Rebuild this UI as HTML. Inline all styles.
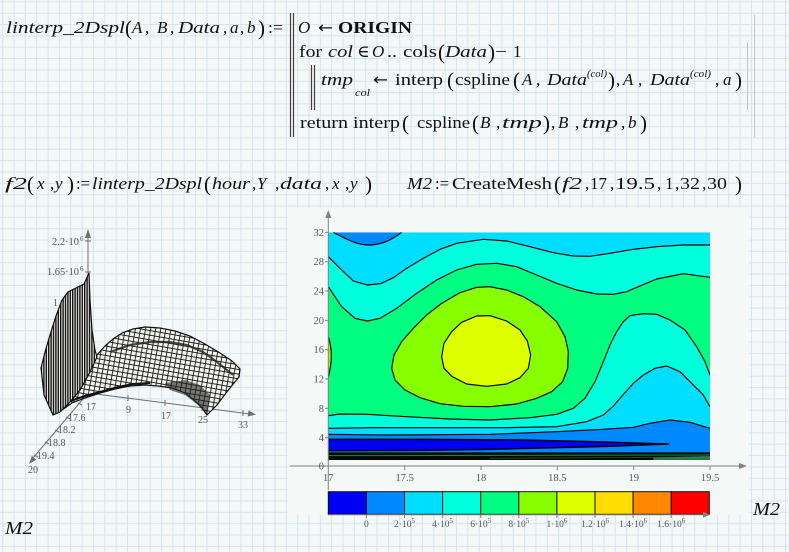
<!DOCTYPE html>
<html><head><meta charset="utf-8">
<style>html,body{margin:0;padding:0;background:#f4f8f6;overflow:hidden}svg{display:block}</style>
</head><body>
<svg width="789" height="552" viewBox="0 0 789 552" xmlns="http://www.w3.org/2000/svg">
<defs>
<pattern id="grid" x="2.2" y="1.3" width="11.345" height="11.345" patternUnits="userSpaceOnUse">
<path d="M0.5,0V11.345M0,0.5H11.345" stroke="#d3e4f3" stroke-width="1" fill="none"/>
</pattern>
<pattern id="wallp" width="2.4" height="10" patternUnits="userSpaceOnUse">
<rect width="2.4" height="10" fill="#eeeeea"/><rect width="1.4" height="10" fill="#151515"/>
</pattern>
<pattern id="meshp" width="5" height="4.6" patternUnits="userSpaceOnUse" patternTransform="rotate(10)">
<rect width="5" height="4.6" fill="#f3f3ee"/><path d="M0,0.45H5M0.45,0V4.6" stroke="#1a1a1a" stroke-width="0.9"/>
</pattern>
<clipPath id="cclip"><rect x="115" y="82" width="1145" height="683"/></clipPath>
</defs>

<rect width="789" height="552" fill="#f4f8f6"/>
<rect width="789" height="552" fill="url(#grid)"/>

<!-- formulas -->
<g font-family="'Liberation Serif','DejaVu Serif',serif" font-size="17" fill="#111">
<text x="6" y="33" font-style="italic" textLength="119" lengthAdjust="spacingAndGlyphs">linterp_2Dspl</text>
<text x="125" y="35" font-size="21">(</text>
<text x="132" y="33" font-style="italic">A</text>
<text x="145" y="33">,</text>
<text x="157" y="33" font-style="italic">B</text>
<text x="170" y="33">,</text>
<text x="178" y="33" font-style="italic" textLength="42" lengthAdjust="spacingAndGlyphs">Data</text>
<text x="223" y="33">,</text>
<text x="230" y="33" font-style="italic">a</text>
<text x="240" y="33">,</text>
<text x="247" y="33" font-style="italic">b</text>
<text x="258" y="35" font-size="21">)</text>
<text x="268" y="33" textLength="15" lengthAdjust="spacingAndGlyphs">:=</text>

<text x="298" y="33" font-style="italic">O</text>
<text x="318" y="33" font-family="'DejaVu Sans',sans-serif" font-size="16" textLength="15" lengthAdjust="spacingAndGlyphs">←</text>
<text x="338" y="33" font-weight="bold" textLength="74" lengthAdjust="spacingAndGlyphs">ORIGIN</text>

<text x="299" y="57" textLength="23" lengthAdjust="spacingAndGlyphs">for</text>
<text x="328" y="57" font-style="italic" textLength="25" lengthAdjust="spacingAndGlyphs">col</text>
<text x="357" y="57">∈</text>
<text x="372" y="57" font-style="italic">O</text>
<text x="387" y="57" textLength="10" lengthAdjust="spacingAndGlyphs">..</text>
<text x="403" y="57" textLength="34" lengthAdjust="spacingAndGlyphs">cols</text>
<text x="438" y="59" font-size="21">(</text>
<text x="445" y="57" font-style="italic" textLength="42" lengthAdjust="spacingAndGlyphs">Data</text>
<text x="488" y="59" font-size="21">)</text>
<text x="495" y="57" textLength="12" lengthAdjust="spacingAndGlyphs">−</text>
<text x="513" y="57">1</text>

<text x="321" y="85" font-style="italic" textLength="32" lengthAdjust="spacingAndGlyphs">tmp</text>
<text x="355" y="96" font-style="italic" font-size="10" textLength="15" lengthAdjust="spacingAndGlyphs">col</text>
<text x="373" y="85" font-family="'DejaVu Sans',sans-serif" font-size="16" textLength="15" lengthAdjust="spacingAndGlyphs">←</text>
<text x="395" y="85" textLength="48" lengthAdjust="spacingAndGlyphs">interp</text>
<text x="447" y="87" font-size="21">(</text>
<text x="455" y="85" textLength="55" lengthAdjust="spacingAndGlyphs">cspline</text>
<text x="513" y="87" font-size="21">(</text>
<text x="522" y="85" font-style="italic">A</text>
<text x="536" y="85">,</text>
<text x="547" y="85" font-style="italic" textLength="40" lengthAdjust="spacingAndGlyphs">Data</text>
<text x="587" y="77" font-style="italic" font-size="10" textLength="20" lengthAdjust="spacingAndGlyphs">(col)</text>
<text x="608" y="87" font-size="21">)</text>
<text x="616" y="85">,</text>
<text x="623" y="85" font-style="italic">A</text>
<text x="638" y="85">,</text>
<text x="650" y="85" font-style="italic" textLength="40" lengthAdjust="spacingAndGlyphs">Data</text>
<text x="690" y="77" font-style="italic" font-size="10" textLength="21" lengthAdjust="spacingAndGlyphs">(col)</text>
<text x="715" y="85">,</text>
<text x="723" y="85" font-style="italic">a</text>
<text x="735" y="87" font-size="21">)</text>

<text x="300" y="128" textLength="48" lengthAdjust="spacingAndGlyphs">return</text>
<text x="353" y="128" textLength="47" lengthAdjust="spacingAndGlyphs">interp</text>
<text x="402" y="130" font-size="21">(</text>
<text x="417" y="128" textLength="53" lengthAdjust="spacingAndGlyphs">cspline</text>
<text x="472" y="130" font-size="21">(</text>
<text x="480" y="128" font-style="italic">B</text>
<text x="496" y="128">,</text>
<text x="502" y="128" font-style="italic" textLength="40" lengthAdjust="spacingAndGlyphs">tmp</text>
<text x="543" y="130" font-size="21">)</text>
<text x="551" y="128">,</text>
<text x="558" y="128" font-style="italic">B</text>
<text x="575" y="128">,</text>
<text x="582" y="128" font-style="italic" textLength="36" lengthAdjust="spacingAndGlyphs">tmp</text>
<text x="621" y="128">,</text>
<text x="628" y="128" font-style="italic">b</text>
<text x="640" y="130" font-size="21">)</text>

<!-- row 2 -->
<text x="5" y="189" font-style="italic" textLength="22" lengthAdjust="spacingAndGlyphs">f2</text>
<text x="27" y="191" font-size="21">(</text>
<text x="37" y="189" font-style="italic">x</text>
<text x="50" y="189">,</text>
<text x="55" y="189" font-style="italic">y</text>
<text x="67" y="191" font-size="21">)</text>
<text x="76" y="189" textLength="14" lengthAdjust="spacingAndGlyphs">:=</text>
<text x="92" y="189" font-style="italic" textLength="110" lengthAdjust="spacingAndGlyphs">linterp_2Dspl</text>
<text x="204" y="191" font-size="21">(</text>
<text x="212" y="189" font-style="italic" textLength="38" lengthAdjust="spacingAndGlyphs">hour</text>
<text x="252" y="189">,</text>
<text x="257" y="189" font-style="italic">Y</text>
<text x="275" y="189">,</text>
<text x="280" y="189" font-style="italic" textLength="42" lengthAdjust="spacingAndGlyphs">data</text>
<text x="325" y="189">,</text>
<text x="332" y="189" font-style="italic">x</text>
<text x="345" y="189">,</text>
<text x="350" y="189" font-style="italic">y</text>
<text x="365" y="191" font-size="21">)</text>

<text x="407" y="189" font-style="italic" textLength="25" lengthAdjust="spacingAndGlyphs">M2</text>
<text x="435" y="189" textLength="14" lengthAdjust="spacingAndGlyphs">:=</text>
<text x="452" y="189" textLength="100" lengthAdjust="spacingAndGlyphs">CreateMesh</text>
<text x="554" y="191" font-size="21">(</text>
<text x="562" y="189" font-style="italic" textLength="20" lengthAdjust="spacingAndGlyphs">f2</text>
<text x="585" y="189">,</text>
<text x="590" y="189" textLength="17" lengthAdjust="spacingAndGlyphs">17</text>
<text x="610" y="189">,</text>
<text x="615" y="189" textLength="40" lengthAdjust="spacingAndGlyphs">19.5</text>
<text x="657" y="189">,</text>
<text x="665" y="189">1</text>
<text x="675" y="189">,</text>
<text x="680" y="189" textLength="20" lengthAdjust="spacingAndGlyphs">32</text>
<text x="702" y="189">,</text>
<text x="707" y="189" textLength="20" lengthAdjust="spacingAndGlyphs">30</text>
<text x="735" y="191" font-size="21">)</text>

<text x="5" y="534" font-style="italic" font-size="18" textLength="28" lengthAdjust="spacingAndGlyphs">M2</text>
<text x="753" y="515" font-style="italic" font-size="18" textLength="27" lengthAdjust="spacingAndGlyphs">M2</text>
</g>

<!-- program bars -->
<g stroke="#4a3c3c" stroke-width="1.2">
<line x1="290.5" y1="13" x2="290.5" y2="137"/>
<line x1="293.5" y1="13" x2="293.5" y2="137"/>
<line x1="311.5" y1="65" x2="311.5" y2="110"/>
<line x1="314.5" y1="65" x2="314.5" y2="110"/>
</g>
<g stroke="#c4c4c4" stroke-width="1">
<line x1="747.5" y1="42" x2="747.5" y2="110"/>
<line x1="754.5" y1="15" x2="754.5" y2="137"/>
</g>

<!-- 3D plot -->
<g stroke="#707070" stroke-width="1" fill="#707070">
<line x1="88" y1="393" x2="88" y2="233"/>
<polygon points="85,238 88,229 91,238" stroke="none"/>
<line x1="88" y1="393" x2="250" y2="414"/>
<polygon points="256,414.5 248.5,410.5 247.7,416.5" stroke="none"/>
<line x1="88" y1="393" x2="33" y2="458"/>
<polygon points="29,464 36.4,459.7 31.8,455.9" stroke="none"/>
<line x1="85" y1="241" x2="91" y2="241"/>
<line x1="85" y1="272" x2="91" y2="272"/>
<line x1="128" y1="395" x2="128" y2="401"/>
<line x1="165" y1="400" x2="165" y2="406"/>
<line x1="202" y1="405" x2="202" y2="411"/>
<line x1="243" y1="410" x2="243" y2="416"/>
<line x1="78" y1="403" x2="82" y2="405"/>
<line x1="66" y1="417" x2="70" y2="419"/>
<line x1="55" y1="430" x2="59" y2="432"/>
<line x1="45" y1="442" x2="49" y2="444"/>
<line x1="34" y1="455" x2="38" y2="457"/>
</g>
<g font-family="'Liberation Serif',serif" font-size="10" fill="#555">
<text x="52" y="245" textLength="27" lengthAdjust="spacingAndGlyphs">2.2·10</text><text x="80" y="241" font-size="7">6</text>
<text x="47" y="275" textLength="32" lengthAdjust="spacingAndGlyphs">1.65·10</text><text x="80" y="271" font-size="7">6</text>
<text x="53" y="306">1</text>
<text x="86" y="410">17</text>
<text x="126" y="413">9</text>
<text x="161" y="419">17</text>
<text x="198" y="423">25</text>
<text x="238" y="428">33</text>
<text x="68" y="421">17.6</text>
<text x="58" y="433">18.2</text>
<text x="48" y="446">18.8</text>
<text x="37" y="459">19.4</text>
<text x="28" y="473">20</text>
</g>
<!-- surface -->
<path d="M97,355 L105,346 L113,339 L122,333 L133,329 L145,327 L160,328 L175,331 L190,336 L205,344 L220,353 L232,361 L240,369 L239,377 L234,383 L226,393 L217,405 L207,415 L202,408 L194,400 L185,393 L172,388 L158,386 L145,385 L130,386 L115,389 L100,393 L85,398 L72,403 L62,410 L70,402 L80,390 L90,372 Z" fill="url(#meshp)" stroke="#111" stroke-width="1.2"/>
<path d="M165,383 L185,380 L200,385 L210,395 L207,415 L198,405 L185,395 L170,390 Z" fill="#222" opacity="0.6"/>
<path d="M110,352 L130,345 L150,342 L170,342 L187,345 L203,352 L217,362 L233,375" fill="none" stroke="#222" stroke-width="2.2" opacity="0.8"/>
<path d="M67,402 L85,396 L100,392 L118,387 L133,384 L150,383" fill="none" stroke="#111" stroke-width="2"/>
<path d="M53,415 L44,395 L41,368 L45,352 L50,335 L56,316 L62,300 L68,292 L76,288 L84,284 L89,273 L90,300 L92,330 L95,350 L97,357 L90,372 L80,390 L70,402 L60,412 Z" fill="url(#wallp)" stroke="#111" stroke-width="1.2"/>

<!-- contour plot plain area -->
<rect x="288" y="208" width="461" height="307" fill="#f4f8f6"/>

<g transform="translate(290,205) scale(0.3333333)">
<g clip-path="url(#cclip)">
<rect x="115" y="82" width="1145" height="683" fill="#00ddff"/>
<path d="M130,82 C165,100 200,120 235,120 C275,120 305,105 335,82 Z" fill="#0088ff"/>
<path d="M115,155 L150,190 L190,228 L232,240 L272,236 L310,218 L350,190 L400,160 L450,133 L500,115 L580,103 L650,108 L720,125 L790,143 L850,153 L900,154 L960,145 L1030,133 L1100,125 L1180,120 L1260,120 L1260,605 L1240,570 L1200,530 L1170,500 L1130,483 L1095,490 L1060,510 L1030,535 L1000,568 L970,603 L940,630 L890,650 L800,665 L650,668 L450,668 L250,668 L115,670 Z" fill="#00ffdd"/>
<path d="M115,245 L135,275 L155,305 L195,340 L232,348 L270,340 L320,310 L380,265 L440,225 L500,195 L560,178 L620,175 L680,185 L740,210 L800,235 L860,255 L920,267 L970,268 L1010,260 L1045,245 L1100,222 L1180,206 L1260,217 L1260,510 L1245,470 L1220,425 L1185,375 L1140,345 L1100,328 L1060,326 L1020,332 L1000,350 L980,380 L960,420 L940,470 L915,530 L885,580 L850,610 L800,628 L720,638 L600,645 L480,642 L350,635 L230,628 L150,627 L115,632 Z" fill="#00ff80"/>
<path d="M305,490 L312,450 L335,410 L370,370 L410,330 L455,295 L510,263 L560,247 L600,245 L650,255 L700,275 L750,305 L800,350 L825,395 L835,440 L833,490 L818,530 L785,560 L740,580 L680,597 L600,605 L520,604 L450,596 L390,578 L345,555 L315,525 Z" fill="#88ff00"/>
<path d="M115,395 Q133,450 115,515 Z" fill="#88ff00"/>
<path d="M455,455 L462,415 L485,380 L515,352 L560,333 L600,332 L650,348 L690,375 L712,408 L722,450 L715,490 L690,518 L650,537 L590,544 L530,537 L487,515 L462,490 Z" fill="#ddff00"/>
<path d="M115,688 L300,690 L600,688 L800,680 L940,673 L1030,667 L1080,655 L1140,645 L1200,652 L1260,670 L1260,765 L115,765 Z" fill="#0088ff"/>
<path d="M115,703 L400,703 L700,705 L900,710 L1135,717 L950,724 L800,728 L600,733 L400,736 L115,737 Z" fill="#0000f5"/>
<rect x="115" y="742" width="1145" height="24" fill="#050805"/>
<path d="M115,752 L1260,750" stroke="#1a8a3a" stroke-width="3" fill="none"/>
<path d="M600,760 L1260,756" stroke="#204a20" stroke-width="3" fill="none"/>
<path d="M1090,758 L1260,753 L1260,766 L1090,766 Z" fill="#3aa070" opacity="0.7"/>
<g fill="none" stroke="#000" stroke-width="3.5" stroke-linejoin="round">
<path d="M130,82 C165,100 200,120 235,120 C275,120 305,105 335,82"/>
<path d="M115,155 L150,190 L190,228 L232,240 L272,236 L310,218 L350,190 L400,160 L450,133 L500,115 L580,103 L650,108 L720,125 L790,143 L850,153 L900,154 L960,145 L1030,133 L1100,125 L1180,120 L1260,120"/>
<path d="M115,245 L135,275 L155,305 L195,340 L232,348 L270,340 L320,310 L380,265 L440,225 L500,195 L560,178 L620,175 L680,185 L740,210 L800,235 L860,255 L920,267 L970,268 L1010,260 L1045,245 L1100,222 L1180,206 L1260,217"/>
<path d="M1260,510 L1245,470 L1220,425 L1185,375 L1140,345 L1100,328 L1060,326 L1020,332 L1000,350 L980,380 L960,420 L940,470 L915,530 L885,580 L850,610 L800,628 L720,638 L600,645 L480,642 L350,635 L230,628 L150,627 L115,632"/>
<path d="M1260,605 L1240,570 L1200,530 L1170,500 L1130,483 L1095,490 L1060,510 L1030,535 L1000,568 L970,603 L940,630 L890,650 L800,665 L650,668 L450,668 L250,668 L115,670"/>
<path d="M115,688 L300,690 L600,688 L800,680 L940,673 L1030,667 L1080,655 L1140,645 L1200,652 L1260,670"/>
<path d="M115,703 L400,703 L700,705 L900,710 L1135,717 L950,724 L800,728 L600,733 L400,736 L115,737" stroke-width="4.5"/>
<path d="M305,490 L312,450 L335,410 L370,370 L410,330 L455,295 L510,263 L560,247 L600,245 L650,255 L700,275 L750,305 L800,350 L825,395 L835,440 L833,490 L818,530 L785,560 L740,580 L680,597 L600,605 L520,604 L450,596 L390,578 L345,555 L315,525 Z"/>
<path d="M455,455 L462,415 L485,380 L515,352 L560,333 L600,332 L650,348 L690,375 L712,408 L722,450 L715,490 L690,518 L650,537 L590,544 L530,537 L487,515 L462,490 Z"/>
<path d="M115,395 Q133,450 115,515"/>
</g>
</g>
</g>

<!-- contour axes -->
<g stroke="#808080" stroke-width="1" fill="#808080">
<line x1="328.3" y1="216" x2="328.3" y2="490"/>
<polygon points="325.3,218 328.3,210 331.3,218" stroke="none"/>
<line x1="290" y1="466" x2="741" y2="466"/>
<polygon points="739,463 747,466 739,469" stroke="none"/>
<line x1="325" y1="232.3" x2="328.3" y2="232.3"/>
<line x1="325" y1="261.7" x2="328.3" y2="261.7"/>
<line x1="325" y1="291" x2="328.3" y2="291"/>
<line x1="325" y1="320.3" x2="328.3" y2="320.3"/>
<line x1="325" y1="349.7" x2="328.3" y2="349.7"/>
<line x1="325" y1="379" x2="328.3" y2="379"/>
<line x1="325" y1="408.3" x2="328.3" y2="408.3"/>
<line x1="325" y1="437.7" x2="328.3" y2="437.7"/>
<line x1="404.7" y1="466" x2="404.7" y2="470"/>
<line x1="481" y1="466" x2="481" y2="470"/>
<line x1="557.3" y1="466" x2="557.3" y2="470"/>
<line x1="633.7" y1="466" x2="633.7" y2="470"/>
<line x1="710" y1="466" x2="710" y2="470"/>
</g>
<g font-family="'Liberation Serif',serif" font-size="10.5" fill="#555">
<g text-anchor="end">
<text x="324" y="236">32</text>
<text x="324" y="265.2">28</text>
<text x="324" y="294.5">24</text>
<text x="324" y="323.8">20</text>
<text x="324" y="353.2">16</text>
<text x="324" y="382.5">12</text>
<text x="324" y="411.8">8</text>
<text x="324" y="441.2">4</text>
<text x="324" y="469.5">0</text>
</g>
<g text-anchor="middle">
<text x="328.3" y="481">17</text>
<text x="404.7" y="481">17.5</text>
<text x="481" y="481">18</text>
<text x="557.3" y="481">18.5</text>
<text x="633.7" y="481">19</text>
<text x="710" y="481">19.5</text>
</g>
</g>

<!-- colorbar -->
<g stroke="#111" stroke-width="1">
<rect x="328.3" y="491.7" width="38.1" height="22.6" fill="#0000f5"/>
<rect x="366.4" y="491.7" width="38.1" height="22.6" fill="#0088ff"/>
<rect x="404.5" y="491.7" width="38.1" height="22.6" fill="#00ddff"/>
<rect x="442.6" y="491.7" width="38.1" height="22.6" fill="#00ffdd"/>
<rect x="480.7" y="491.7" width="38.1" height="22.6" fill="#00ff80"/>
<rect x="518.8" y="491.7" width="38.1" height="22.6" fill="#88ff00"/>
<rect x="556.9" y="491.7" width="38.1" height="22.6" fill="#ddff00"/>
<rect x="595.0" y="491.7" width="38.1" height="22.6" fill="#ffdd00"/>
<rect x="633.1" y="491.7" width="38.1" height="22.6" fill="#ff8800"/>
<rect x="671.2" y="491.7" width="38.1" height="22.6" fill="#ff0000"/>
</g>
<g stroke="#808080" stroke-width="1" fill="#808080">
<line x1="328" y1="514.8" x2="704" y2="514.8"/>
<polygon points="703,511.8 710,514.8 703,517.8" stroke="none"/>
<line x1="366.4" y1="514.8" x2="366.4" y2="518"/>
<line x1="404.5" y1="514.8" x2="404.5" y2="518"/>
<line x1="442.6" y1="514.8" x2="442.6" y2="518"/>
<line x1="480.7" y1="514.8" x2="480.7" y2="518"/>
<line x1="518.8" y1="514.8" x2="518.8" y2="518"/>
<line x1="556.9" y1="514.8" x2="556.9" y2="518"/>
<line x1="595.0" y1="514.8" x2="595.0" y2="518"/>
<line x1="633.1" y1="514.8" x2="633.1" y2="518"/>
<line x1="671.2" y1="514.8" x2="671.2" y2="518"/>
</g>
<g font-family="'Liberation Serif',serif" font-size="9.5" fill="#555" text-anchor="middle">
<text x="366.4" y="527">0</text>
<text x="404.5" y="527">2·10<tspan dy="-4" font-size="7">5</tspan></text>
<text x="442.6" y="527">4·10<tspan dy="-4" font-size="7">5</tspan></text>
<text x="480.7" y="527">6·10<tspan dy="-4" font-size="7">5</tspan></text>
<text x="518.8" y="527">8·10<tspan dy="-4" font-size="7">5</tspan></text>
<text x="556.9" y="527">1·10<tspan dy="-4" font-size="7">6</tspan></text>
<text x="595.0" y="527">1.2·10<tspan dy="-4" font-size="7">6</tspan></text>
<text x="633.1" y="527">1.4·10<tspan dy="-4" font-size="7">6</tspan></text>
<text x="671.2" y="527">1.6·10<tspan dy="-4" font-size="7">6</tspan></text>
</g>
</svg>
</body></html>
